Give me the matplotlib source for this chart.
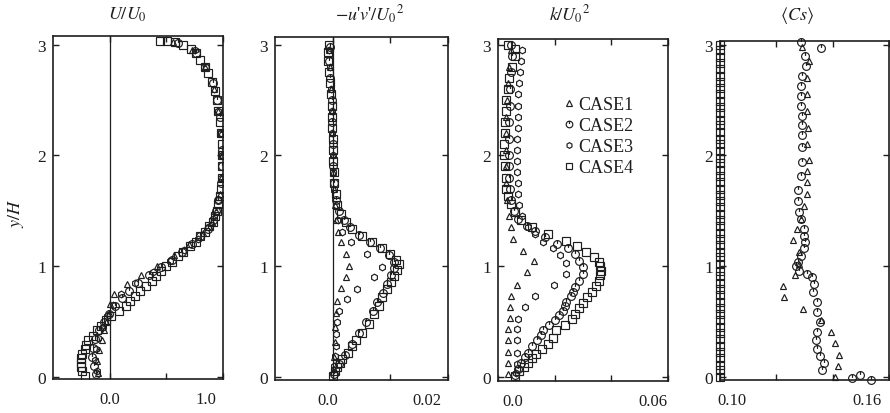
import matplotlib
matplotlib.use('Agg')
import matplotlib.pyplot as plt
from matplotlib.path import Path
from matplotlib.transforms import ScaledTranslation
from matplotlib.lines import Line2D

plt.rcParams['font.family'] = ['Liberation Serif', 'DejaVu Serif']
plt.rcParams['mathtext.fontset'] = 'stix'

cases = ['CASE1', 'CASE2', 'CASE3', 'CASE4']

# ---------------- Panel 1: U/U0 ----------------
u_y_c1 = [0.04, 0.14, 0.24, 0.33, 0.42, 0.5, 0.58, 0.66, 0.75, 0.84, 0.92, 1.0, 1.1, 1.2, 1.3,
          1.4, 1.5, 1.65, 1.8, 2.0, 2.2, 2.4, 2.6, 2.8, 2.95, 3.02]
u_c1 = [-0.1, -0.11, -0.09, -0.07, -0.05, -0.03, -0.01, 0.0, 0.04, 0.15, 0.28, 0.42, 0.57, 0.7, 0.82,
        0.9, 0.94, 0.97, 0.98, 0.99, 0.98, 0.96, 0.92, 0.84, 0.73, 0.56]
u_y_c2 = [0.03, 0.1, 0.18, 0.26, 0.34, 0.42, 0.5, 0.57, 0.64, 0.71, 0.78, 0.85, 0.92, 0.99, 1.06,
          1.13, 1.2, 1.27, 1.34, 1.42, 1.5, 1.6, 1.75, 1.9, 2.05, 2.2, 2.35, 2.5, 2.65, 2.8, 2.92, 3.01]
u_c2 = [-0.12, -0.14, -0.16, -0.15, -0.13, -0.09, -0.05, -0.01, 0.05, 0.11, 0.17, 0.25, 0.35, 0.45, 0.55,
        0.64, 0.73, 0.8, 0.87, 0.91, 0.94, 0.96, 0.98, 0.99, 0.99, 0.98, 0.97, 0.95, 0.91, 0.84, 0.76, 0.6]
u_y_c3 = [0.05, 0.15, 0.25, 0.35, 0.45, 0.55, 0.65, 0.75, 0.85, 0.95, 1.05, 1.15, 1.25, 1.35, 1.45,
          1.6, 1.8, 2.0, 2.2, 2.4, 2.6, 2.8, 2.95]
u_c3 = [-0.11, -0.13, -0.12, -0.1, -0.06, -0.02, 0.03, 0.1, 0.22, 0.38, 0.53, 0.66, 0.78, 0.87, 0.92,
        0.96, 0.98, 0.99, 0.98, 0.96, 0.92, 0.85, 0.75]
u_y_c4 = [0.01, 0.05, 0.09, 0.13, 0.17, 0.21, 0.25, 0.29, 0.33, 0.37, 0.42, 0.46, 0.51, 0.55, 0.6,
          0.64, 0.69, 0.73, 0.78, 0.82, 0.87, 0.91, 0.96, 1.0, 1.04, 1.09, 1.13, 1.18, 1.22, 1.27,
          1.31, 1.36, 1.4, 1.45, 1.5, 1.56, 1.63, 1.7, 1.8, 1.9, 2.0, 2.1, 2.2, 2.3, 2.4, 2.5, 2.58,
          2.66, 2.74, 2.8, 2.86, 2.92, 2.96, 3.0, 3.02, 3.03, 3.03]
u_c4 = [-0.22, -0.24, -0.25, -0.25, -0.25, -0.24, -0.22, -0.21, -0.19, -0.15, -0.11, -0.08, -0.03, 0.01, 0.08,
        0.14, 0.18, 0.22, 0.27, 0.32, 0.37, 0.41, 0.45, 0.5, 0.55, 0.6, 0.65, 0.71, 0.76, 0.8,
        0.84, 0.88, 0.91, 0.93, 0.95, 0.96, 0.97, 0.98, 0.99, 0.99, 0.99, 0.99, 0.98, 0.97, 0.96, 0.95, 0.93,
        0.9, 0.87, 0.84, 0.8, 0.76, 0.72, 0.65, 0.58, 0.51, 0.44]

# ---------------- Panel 2: -u'v'/U0^2 ----------------
uv_y_c1 = [0.07, 0.18, 0.32, 0.45, 0.58, 0.69, 0.8, 0.9, 1.0, 1.11, 1.22, 1.31, 1.42, 1.55, 1.7,
           1.85, 2.0, 2.2, 2.4, 2.6, 2.8, 2.95]
uv_c1 = [0.0002, 0.0003, 0.0004, 0.0004, 0.0005, 0.0008, 0.0014, 0.0023, 0.0029, 0.0023, 0.0014, 0.0009,
         0.0006, 0.0004, 0.0002, 0.0001, 0.0, -0.0001, -0.0002, -0.0003, -0.0005, -0.0006]
uv_y_c2 = [0.03, 0.12, 0.2, 0.3, 0.4, 0.5, 0.6, 0.68, 0.76, 0.84, 0.92, 0.98, 1.04, 1.1, 1.16, 1.22,
           1.28, 1.35, 1.42, 1.5, 1.6, 1.75, 1.9, 2.1, 2.3, 2.5, 2.7, 2.85, 2.98]
uv_c2 = [0.0002, 0.0011, 0.0021, 0.0033, 0.0046, 0.0058, 0.007, 0.0077, 0.0088, 0.0095, 0.0102, 0.0107,
         0.0106, 0.0097, 0.0082, 0.0064, 0.0046, 0.003, 0.0019, 0.0011, 0.0006, 0.0003, 0.0001, 0.0,
         -0.0001, -0.0002, -0.0004, -0.0006, -0.0005]
uv_y_c3 = [0.1, 0.19, 0.28, 0.39, 0.5, 0.6, 0.7, 0.79, 0.9, 0.99, 1.11, 1.22, 1.31, 1.42, 1.55, 1.7,
           1.85, 2.0, 2.2, 2.4, 2.6, 2.8, 2.95]
uv_c3 = [0.0003, 0.0004, 0.0005, 0.0006, 0.0008, 0.0011, 0.0025, 0.0042, 0.0071, 0.0086, 0.006, 0.0031,
         0.0017, 0.0009, 0.0005, 0.0003, 0.0001, 0.0, -0.0001, -0.0002, -0.0003, -0.0005, -0.0006]
uv_y_c4 = [0.01, 0.05, 0.09, 0.13, 0.16, 0.22, 0.28, 0.33, 0.4, 0.48, 0.57, 0.64, 0.72, 0.79, 0.86,
           0.91, 0.97, 1.02, 1.06, 1.11, 1.16, 1.22, 1.27, 1.34, 1.4, 1.47, 1.55, 1.65, 1.75, 1.85,
           1.95, 2.05, 2.15, 2.25, 2.35, 2.45, 2.55, 2.65, 2.75, 2.85, 2.93, 3.0]
uv_c4 = [0.0, 0.0004, 0.0008, 0.0013, 0.0017, 0.0026, 0.0034, 0.004, 0.0051, 0.0063, 0.0072, 0.008,
         0.0086, 0.0095, 0.0101, 0.0107, 0.0112, 0.0115, 0.0109, 0.01, 0.0086, 0.0069, 0.0051, 0.0034,
         0.0023, 0.0014, 0.0008, 0.0005, 0.0003, 0.0002, 0.0001, 0.0, 0.0, -0.0001, -0.0001, -0.0002,
         -0.0003, -0.0004, -0.0006, -0.0008, -0.0008, -0.0006]

# ---------------- Panel 3: k/U0^2 ----------------
k_y_c1 = [0.03, 0.13, 0.23, 0.33, 0.43, 0.53, 0.63, 0.73, 0.83, 0.95, 1.05, 1.14, 1.25, 1.35, 1.45,
          1.6, 1.75, 1.9, 2.05, 2.2, 2.35, 2.5, 2.65, 2.8, 2.95]
k_c1 = [0.0035, 0.0037, 0.0037, 0.0037, 0.0037, 0.0042, 0.0042, 0.0046, 0.0066, 0.0101, 0.0127, 0.0088,
        0.0053, 0.0046, 0.004, 0.0032, 0.003, 0.0028, 0.0027, 0.0028, 0.003, 0.0032, 0.0035, 0.004, 0.0045]
k_y_c2 = [0.02, 0.07, 0.13, 0.18, 0.22, 0.28, 0.33, 0.38, 0.42, 0.47, 0.51, 0.56, 0.6, 0.64, 0.68,
          0.73, 0.77, 0.81, 0.87, 0.93, 0.99, 1.05, 1.11, 1.16, 1.2, 1.26, 1.32, 1.36, 1.43, 1.5, 1.6,
          1.7, 1.8, 1.9, 2.0, 2.15, 2.3, 2.45, 2.6, 2.75, 2.9, 3.0]
k_c2 = [0.006, 0.007, 0.0082, 0.0095, 0.0106, 0.012, 0.0136, 0.015, 0.016, 0.018, 0.02, 0.0215, 0.0229,
        0.0235, 0.024, 0.0257, 0.0263, 0.027, 0.0287, 0.03, 0.03, 0.0287, 0.027, 0.0248, 0.0207, 0.0165,
        0.013, 0.0101, 0.0072, 0.0055, 0.0045, 0.0042, 0.004, 0.0038, 0.0038, 0.004, 0.004, 0.0042,
        0.0042, 0.0045, 0.005, 0.0045]
k_y_c3 = [0.04, 0.12, 0.22, 0.33, 0.43, 0.52, 0.63, 0.73, 0.83, 0.93, 1.03, 1.1, 1.16, 1.22, 1.29,
          1.35, 1.45, 1.55, 1.65, 1.75, 1.85, 1.95, 2.05, 2.15, 2.25, 2.35, 2.45, 2.55, 2.65, 2.75,
          2.85, 2.95]
k_c3 = [0.0065, 0.0068, 0.0066, 0.0067, 0.0068, 0.0072, 0.0095, 0.013, 0.0198, 0.024, 0.024, 0.022,
        0.0194, 0.016, 0.013, 0.0107, 0.0085, 0.0075, 0.0072, 0.007, 0.0068, 0.0068, 0.0066, 0.0068,
        0.007, 0.007, 0.0072, 0.0072, 0.0075, 0.0078, 0.008, 0.0085]
k_y_c4 = [0.01, 0.05, 0.09, 0.13, 0.17, 0.21, 0.25, 0.3, 0.35, 0.42, 0.47, 0.52, 0.57, 0.62, 0.67,
          0.72, 0.77, 0.82, 0.87, 0.92, 0.96, 1.0, 1.04, 1.08, 1.13, 1.18, 1.23, 1.29, 1.35, 1.42,
          1.49, 1.56, 1.63, 1.7, 1.8, 1.9, 2.0, 2.1, 2.2, 2.3, 2.4, 2.5, 2.6, 2.7, 2.8, 2.9, 2.96, 3.0]
k_c4 = [0.006, 0.0075, 0.009, 0.0105, 0.012, 0.0135, 0.0155, 0.0175, 0.0195, 0.0205, 0.0235, 0.026,
        0.027, 0.0285, 0.03, 0.0315, 0.033, 0.0345, 0.0355, 0.036, 0.0362, 0.036, 0.0355, 0.034, 0.031,
        0.028, 0.024, 0.0175, 0.012, 0.008, 0.006, 0.0045, 0.0035, 0.003, 0.0028, 0.0025, 0.0022,
        0.0022, 0.0025, 0.0025, 0.0028, 0.003, 0.0035, 0.004, 0.005, 0.006, 0.006, 0.0035]

# ---------------- Panel 4: <Cs> ----------------
cs_y_c1 = [0.0, 0.1, 0.2, 0.31, 0.41, 0.51, 0.61, 0.72, 0.82, 0.92, 1.02, 1.13, 1.24, 1.34, 1.43,
           1.54, 1.65, 1.76, 1.86, 1.96, 2.1, 2.25, 2.4, 2.55, 2.7, 2.85, 2.98]
cs_c1 = [0.141, 0.142, 0.1421, 0.141, 0.1393, 0.1357, 0.1295, 0.1228, 0.1225, 0.1266, 0.128, 0.128,
         0.126, 0.1275, 0.1288, 0.1298, 0.131, 0.131, 0.131, 0.1315, 0.131, 0.1312, 0.131, 0.1308,
         0.131, 0.1315, 0.129]
cs_y_c2 = [-0.01, 0.02, -0.03, 0.06, 0.13, 0.19, 0.25, 0.33, 0.41, 0.5, 0.59, 0.68, 0.77, 0.84, 0.9,
           0.93, 0.96, 1.0, 1.04, 1.09, 1.16, 1.22, 1.27, 1.34, 1.43, 1.49, 1.59, 1.69, 1.81, 1.94,
           2.08, 2.18, 2.27, 2.36, 2.45, 2.54, 2.63, 2.72, 2.81, 2.9, 2.97, 3.02]
cs_c2 = [0.1467, 0.1497, 0.1536, 0.1362, 0.1368, 0.1356, 0.1344, 0.1342, 0.1344, 0.1354, 0.1344, 0.1344,
         0.133, 0.1333, 0.1325, 0.1308, 0.128, 0.127, 0.1277, 0.1288, 0.1298, 0.13, 0.1298, 0.1298,
         0.1288, 0.128, 0.1276, 0.1277, 0.1288, 0.1292, 0.1292, 0.1292, 0.1292, 0.1292, 0.1288, 0.1288,
         0.1288, 0.1292, 0.1305, 0.13, 0.1358, 0.1288]
cs_y_c4 = [0.0, 0.06, 0.11, 0.17, 0.23, 0.28, 0.34, 0.4, 0.45, 0.51, 0.57, 0.62, 0.68, 0.74, 0.79,
           0.85, 0.91, 0.96, 1.02, 1.08, 1.13, 1.19, 1.25, 1.3, 1.36, 1.42, 1.47, 1.53, 1.59, 1.64,
           1.7, 1.76, 1.81, 1.87, 1.93, 1.98, 2.04, 2.1, 2.15, 2.21, 2.27, 2.32, 2.38, 2.44, 2.49,
           2.55, 2.61, 2.66, 2.72, 2.78, 2.83, 2.89, 2.95, 3.0]
cs_c4 = [0.10, 0.10, 0.10, 0.10, 0.10, 0.10, 0.10, 0.10, 0.10, 0.10, 0.10, 0.10, 0.10, 0.10, 0.10,
         0.10, 0.10, 0.10, 0.10, 0.10, 0.10, 0.10, 0.10, 0.10, 0.10, 0.10, 0.10, 0.10, 0.10, 0.10,
         0.10, 0.10, 0.10, 0.10, 0.10, 0.10, 0.10, 0.10, 0.10, 0.10, 0.10, 0.10, 0.10, 0.10, 0.10,
         0.10, 0.10, 0.10, 0.10, 0.10, 0.10, 0.10, 0.10, 0.10]

titles = [r'$U/U_0$', r"$-u$'$v$'$/U_0{}^2$", r'$k/U_0{}^2$', r'$\langle Cs\rangle$']
xlims = [(-0.5, 1.0), (-0.01, 0.02), (0.0, 0.06), (0.10, 0.16)]
xmajor = [[0.0, 1.0], [0.0, 0.02], [0.0, 0.06], [0.10, 0.16]]
xlabels = [['0.0', '1.0'], ['0.0', '0.02'], ['0.0', '0.06'], ['0.10', '0.16']]
xminor = [[0.5], [0.01], [0.02, 0.04], [0.12, 0.14]]
yticks = [0, 1, 2, 3]

# ---------------- styling ----------------
ink = '#1e1e1e'
circ_tick = Path.make_compound_path(Path.unit_circle(),
                                    Path([(0, 0.15), (0, 1.0)], [Path.MOVETO, Path.LINETO]))
styles = {
    'CASE1': dict(marker='^', ms=4.6),
    'CASE2': dict(marker=circ_tick, ms=5.6),
    'CASE3': dict(marker='h', ms=4.8),
    'CASE4': dict(marker='s', ms=5.2),
}

W, H = 890, 414
rects_px = [(53, 223, 37, 380), (275, 448, 38, 381), (498, 668, 40, 382), (720, 889, 42, 381)]
y0_px, px_per_unit = 378.0, 110.8
label_shift = [[0, -17], [-5, -21], [15, -15], [12, -22]]

fig = plt.figure(figsize=(W / 100, H / 100), dpi=100)

panels = [
    [(u_c1, u_y_c1), (u_c2, u_y_c2), (u_c3, u_y_c3), (u_c4, u_y_c4)],
    [(uv_c1, uv_y_c1), (uv_c2, uv_y_c2), (uv_c3, uv_y_c3), (uv_c4, uv_y_c4)],
    [(k_c1, k_y_c1), (k_c2, k_y_c2), (k_c3, k_y_c3), (k_c4, k_y_c4)],
    [(cs_c1, cs_y_c1), (cs_c2, cs_y_c2), None, (cs_c4, cs_y_c4)],
]
title_x_px = [127, 370, 570, 797]

axes = []
for i, (l, r, t, b) in enumerate(rects_px):
    ax = fig.add_axes([l / W, 1 - b / H, (r - l) / W, (b - t) / H])
    axes.append(ax)
    ax.set_xlim(*xlims[i])
    ax.set_ylim((y0_px - b) / px_per_unit, (y0_px - t) / px_per_unit)
    if i in (0, 1):
        ax.axvline(0.0, color=ink, lw=0.9, zorder=1)
    for j, case in enumerate(cases):
        d = panels[i][j]
        if d is None:
            continue
        xs, ys = d
        ax.plot(xs, ys, ls='none', mfc='none', mec=ink, mew=0.85,
                clip_on=(i != 3), zorder=3, **styles[case])
    for s in ax.spines.values():
        s.set_linewidth(1.2)
        s.set_color(ink)
    ax.set_yticks(yticks)
    ax.set_yticklabels([str(v) for v in yticks])
    ax.set_xticks(xmajor[i])
    ax.set_xticklabels(xlabels[i])
    ax.set_xticks(xminor[i], minor=True)
    ax.tick_params(which='both', direction='in', top=True, right=True,
                   length=4.5, width=1.0, color=ink, labelcolor=ink)
    ax.tick_params(axis='y', labelsize=12.5, pad=5)
    ax.tick_params(axis='x', labelsize=12, pad=9)
    for lab, dx in zip(ax.get_xticklabels(), label_shift[i]):
        lab.set_transform(lab.get_transform() + ScaledTranslation(dx / 100, 0, fig.dpi_scale_trans))
    fig.text(title_x_px[i] / W, 1 - 15 / H, titles[i], fontsize=13, ha='center', va='center', color=ink)

fig.text(16 / W, 1 - 213 / H, r'$y/H$', rotation=90, fontsize=13, ha='center', va='center', color=ink)

handles = [Line2D([], [], ls='none', mfc='none', mec=ink, mew=0.85,
                  marker=styles[c]['marker'], ms=styles[c]['ms'] * 0.85) for c in cases]
axes[2].legend(handles, cases, loc='upper left', bbox_to_anchor=(0.33, 0.86), frameon=False,
               fontsize=13, handlelength=0.6, handletextpad=0.25, labelspacing=0.22,
               borderpad=0.0, labelcolor=ink)

fig.savefig('out.png', dpi=100, facecolor='white')
